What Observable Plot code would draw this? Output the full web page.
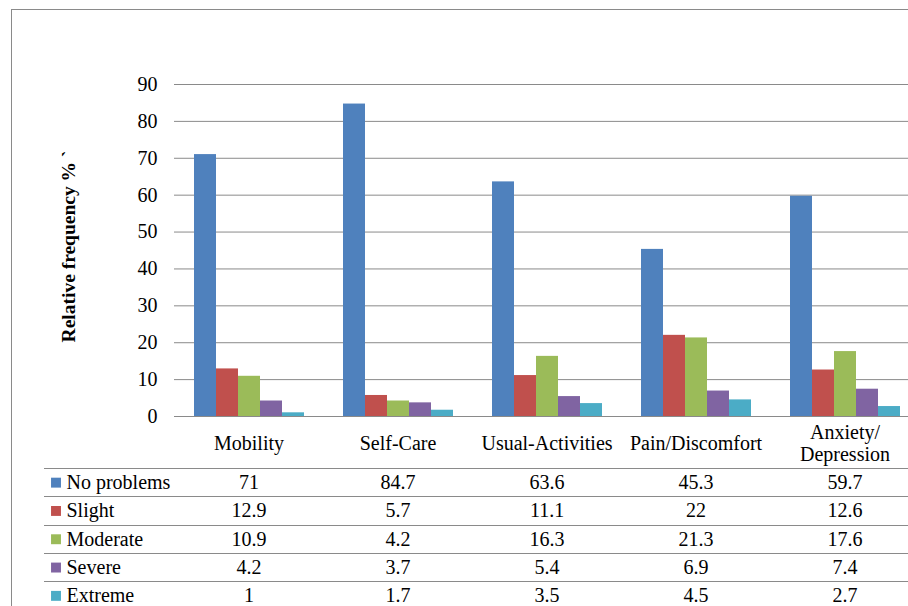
<!DOCTYPE html>
<html>
<head>
<meta charset="utf-8">
<script src="https://cdn.jsdelivr.net/npm/d3@7"></script>
<script src="https://cdn.jsdelivr.net/npm/@observablehq/plot@0.6"></script>
<style>
  html, body { margin: 0; padding: 0; background: #fff; font-family: 'Liberation Serif', serif; }
  #wrap { position: relative; width: 908px; height: 606px; overflow: hidden; }
  #border { position: absolute; left: 11px; top: 9px; width: 1000px; height: 700px;
            border-left: 1px solid #8a8a8a; border-top: 1px solid #8a8a8a; pointer-events: none; }
  svg.chart, svg.chart text, svg.chart g { font-family: 'Liberation Serif', serif !important; }
</style>
</head>
<body>
<div id="wrap"><div id="chart"></div><div id="border"></div></div>
<script>
// ---- data ----
const categories = ["Mobility", "Self-Care", "Usual-Activities", "Pain/Discomfort", "Anxiety/\nDepression"];
const series = ["No problems", "Slight", "Moderate", "Severe", "Extreme"];
const noProblems = [71, 84.7, 63.6, 45.3, 59.7];
const slight     = [12.9, 5.7, 11.1, 22, 12.6];
const moderate   = [10.9, 4.2, 16.3, 21.3, 17.6];
const severe     = [4.2, 3.7, 5.4, 6.9, 7.4];
const extreme    = [1, 1.7, 3.5, 4.5, 2.7];
const yTitle = "Relative frequency % `";

// ---- layout / style ----
const values = [noProblems, slight, moderate, severe, extreme];
const colors = ["#4F81BD", "#C0504D", "#9BBB59", "#8064A2", "#4BACC6"];
const W = 919, H = 606, mL = 174, mT = 84, mB = 190, mR = 0;
const frameH = H - mT - mB;
const bw = (W - mL - mR) / categories.length;
const lineColor = "#8a8a8a";
const font = "Liberation Serif";
const fs = 20;
const headerH = 52;
const rowH = 28.3;
const rowTop = r => Math.round(headerH + rowH * r);
const rowMid = r => headerH + rowH * r + rowH / 2;

const rows = [];
series.forEach((s, r) => categories.forEach((c, i) => rows.push({category: c, series: s, value: values[r][i]})));

const marks = [
  Plot.ruleY(d3.range(0, 91, 10), {stroke: lineColor}),
  Plot.barY(rows, {fx: "category", x: "series", y: "value", fill: "series"}),
  // left axis line of plot area, continuing down through table
  Plot.ruleX([categories[0]], {fx: d => d, dx: -bw / 2, stroke: lineColor, insetBottom: -mB}),
  // category separators below the baseline
  Plot.ruleX(categories.slice(1), {fx: d => d, dx: -bw / 2, stroke: lineColor, insetTop: frameH, insetBottom: -mB}),
  // left edge of the legend column
  Plot.ruleX([categories[0]], {fx: d => d, dx: -bw / 2 - 130, stroke: lineColor, insetTop: frameH + headerH, insetBottom: -mB}),
  // category header labels
  Plot.text(categories, {fx: d => d, text: d => d, frameAnchor: "bottom", dy: 26, lineAnchor: "middle",
    lineHeight: 1.1, fontSize: fs, fontFamily: font, fill: "#000"}),
  // y title
  Plot.text([categories[0]], {fx: d => d, text: () => yTitle, frameAnchor: "left", textAnchor: "middle", lineAnchor: "middle",
    dx: -106, dy: -4, rotate: -90, fontWeight: "bold", fontSize: 19.5, fontFamily: font, fill: "#000"})
];

series.forEach((s, r) => {
  // table row top line (all facets + legend column)
  marks.push(Plot.ruleY([0], {dy: rowTop(r), stroke: lineColor}));
  marks.push(Plot.ruleY([categories[0]], {fx: d => d, y: () => 0, dy: rowTop(r), insetLeft: -130, stroke: lineColor}));
  // values
  marks.push(Plot.text(categories.map((c, i) => ({c, v: values[r][i]})), {
    fx: "c", text: d => String(d.v), frameAnchor: "bottom", lineAnchor: "middle", textAnchor: "middle",
    dy: rowMid(r), fontSize: fs, fontFamily: font, fill: "#000"}));
  // legend key + label
  marks.push(Plot.dot([s], {fx: () => categories[0], fill: d => d, symbol: "square", r: 5.6,
    frameAnchor: "bottom-left", dx: 55.5 - mL, dy: rowMid(r)}));
  marks.push(Plot.text([s], {fx: () => categories[0], text: d => d, frameAnchor: "bottom-left",
    textAnchor: "start", lineAnchor: "middle",
    dx: 66 - mL, dy: rowMid(r), fontSize: fs, fontFamily: font, fill: "#000"}));
});

const chart = Plot.plot({
  width: W, height: H,
  marginLeft: mL, marginTop: mT, marginBottom: mB, marginRight: mR,
  className: "chart",
  style: "font-family: 'Liberation Serif', serif; font-size: 20px; background: transparent; max-width: none; color: #000;",
  fx: {domain: categories, padding: 0, axis: null, label: null},
  x: {domain: series, paddingInner: 0, paddingOuter: 0.75, axis: null, label: null},
  y: {domain: [0, 90], ticks: 10, tickSize: 0, tickPadding: 17, label: null, axis: "left"},
  color: {domain: series, range: colors},
  marks
});
chart.setAttribute("font-family", "Liberation Serif, serif");
chart.classList.add("chart");
document.getElementById("chart").appendChild(chart);
</script>
</body>
</html>
